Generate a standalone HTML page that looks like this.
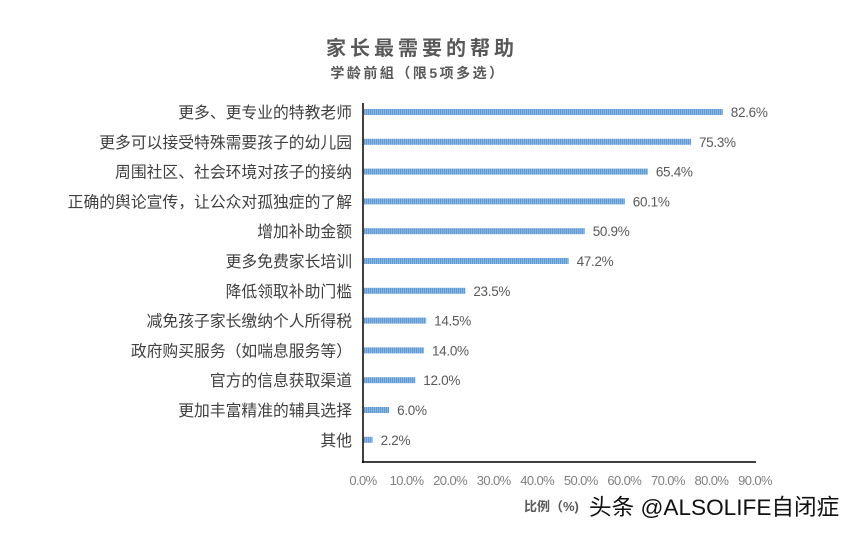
<!DOCTYPE html>
<html><head><meta charset="utf-8"><style>
body{margin:0;background:#fff;width:856px;height:535px;overflow:hidden;font-family:"Liberation Sans","Noto Sans CJK SC",sans-serif;}
</style></head><body>
<svg id="c" width="856" height="535" xmlns="http://www.w3.org/2000/svg">
<defs><pattern id="hatch" width="2" height="8" patternUnits="userSpaceOnUse"><rect width="2" height="8" fill="#8fb6e0"/><rect width="1" height="8" fill="#5b9bd5"/></pattern></defs>
<text x="422" y="55" text-anchor="middle" font-size="20" font-weight="bold" fill="#595959" letter-spacing="4">家长最需要的帮助</text>
<text x="418" y="78" text-anchor="middle" font-size="14" font-weight="bold" fill="#595959" letter-spacing="2.5">学龄前組（限5项多选）</text>
<g id="bars"></g>
<line x1="363" y1="103" x2="363" y2="463" stroke="#000" stroke-width="1.5"/>
<line x1="362" y1="462" x2="756" y2="462" stroke="#000" stroke-width="1.5"/>
<g id="ticks"></g>
<text x="524" y="511" font-size="13" font-weight="bold" fill="#595959">比例（%)</text>
<text x="589" y="515" font-size="22.6" fill="#111">头条 @ALSOLIFE自闭症</text>
</svg>
<script>
const categories=["更多、更专业的特教老师","更多可以接受特殊需要孩子的幼儿园","周围社区、社会环境对孩子的接纳","正确的舆论宣传，让公众对孤独症的了解","增加补助金额","更多免费家长培训","降低领取补助门槛","减免孩子家长缴纳个人所得税","政府购买服务（如喘息服务等）","官方的信息获取渠道","更加丰富精准的辅具选择","其他"];
const values=[82.6,75.3,65.4,60.1,50.9,47.2,23.5,14.5,14.0,12.0,6.0,2.2];
const tickValues=[0,10,20,30,40,50,60,70,80,90];
const NS="http://www.w3.org/2000/svg";
const x=v=>363+v*(755-363)/90;
const y=i=>112+i*29.8;
const bars=document.getElementById('bars'),ticks=document.getElementById('ticks');
function mk(t,a,p){const e=document.createElementNS(NS,t);for(const k in a)e.setAttribute(k,a[k]);p.appendChild(e);return e;}
categories.forEach((c,i)=>{
 const r=mk('rect',{x:x(0)+1,y:y(i)-3,width:x(values[i])-x(0)-1,height:6,fill:'url(#hatch)'},bars);
 
 
 const l=mk('text',{x:352,y:y(i)+6,'text-anchor':'end','font-size':15.8,fill:'#404040'},bars);l.textContent=c;
 
 
 const v=mk('text',{x:x(values[i])+8,y:y(i)+5,'font-size':13.5,'letter-spacing':-0.3,fill:'#595959'},bars);v.textContent=values[i].toFixed(1)+'%';
 
 
});
tickValues.forEach(t=>{
 const e=mk('text',{x:x(t),y:485,'text-anchor':'middle','font-size':13,'letter-spacing':-0.6,fill:'#7f7f7f'},ticks);e.textContent=t.toFixed(1)+'%';
 
 
});
</script>
</body></html>
